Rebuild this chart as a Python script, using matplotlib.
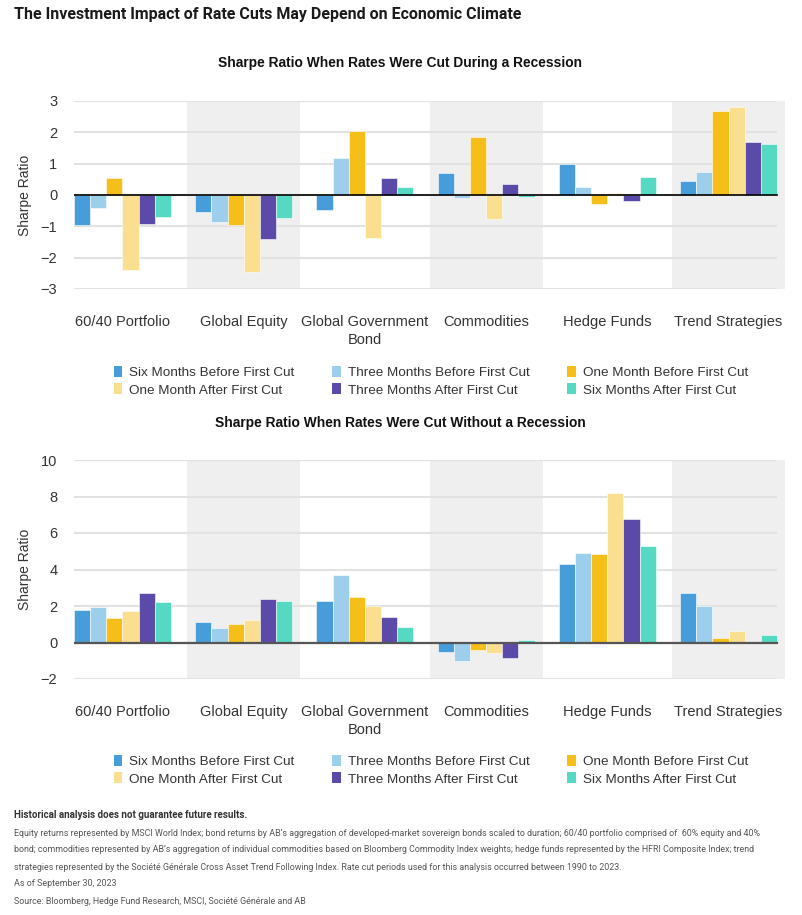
import matplotlib.pyplot as plt
from matplotlib.patches import Patch
import numpy as np

plt.rcParams['font.family'] = ['Liberation Sans', 'DejaVu Sans']

categories = ['60/40 Portfolio', 'Global Equity', 'Global Government\nBond',
              'Commodities', 'Hedge Funds', 'Trend Strategies']
series_names = ['Six Months Before First Cut', 'Three Months Before First Cut',
                'One Month Before First Cut', 'One Month After First Cut',
                'Three Months After First Cut', 'Six Months After First Cut']
colors = ['#469dd9', '#9dcfec', '#f6be18', '#f9df8f', '#5b4aa8', '#56d9c2']

# Sharpe ratio, rate cuts during a recession (one list per period)
rec_six_before = [-0.97, -0.55, -0.49, 0.70, 0.99, 0.45]
rec_three_before = [-0.43, -0.86, 1.19, -0.11, 0.27, 0.73]
rec_one_before = [0.53, -0.95, 2.04, 1.85, -0.28, 2.69]
rec_one_after = [-2.39, -2.45, -1.36, -0.78, 0.05, 2.82]
rec_three_after = [-0.94, -1.41, 0.54, 0.36, -0.20, 1.69]
rec_six_after = [-0.69, -0.72, 0.27, -0.07, 0.59, 1.63]

# Sharpe ratio, rate cuts without a recession
norec_six_before = [1.76, 1.10, 2.30, -0.53, 4.28, 2.69]
norec_three_before = [1.92, 0.80, 3.69, -1.01, 4.92, 1.99]
norec_one_before = [1.35, 1.01, 2.49, -0.40, 4.84, 0.22]
norec_one_after = [1.72, 1.22, 1.99, -0.60, 8.17, 0.62]
norec_three_after = [2.72, 2.38, 1.37, -0.86, 6.76, -0.02]
norec_six_after = [2.21, 2.25, 0.84, 0.16, 5.28, 0.40]

rec = [rec_six_before, rec_three_before, rec_one_before,
       rec_one_after, rec_three_after, rec_six_after]
norec = [norec_six_before, norec_three_before, norec_one_before,
         norec_one_after, norec_three_after, norec_six_after]

W, H = 802, 915
fig = plt.figure(figsize=(W / 100, H / 100), dpi=100)

tc = '#333333'


def draw(ax_rect, data, yticks, zero_col, zero_lw):
    ax = fig.add_axes(ax_rect)
    x = np.arange(len(categories))
    bw = 0.8 / 6
    # shaded bands behind every other category
    for i in (1, 3, 5):
        ax.axvspan(i - 0.466, i + 0.466, color='#efefef', zorder=0, lw=0)
    ax.hlines(yticks, -0.4, 5.4, color='#e2e2e2', lw=1.5, zorder=1)
    for k, vals in enumerate(data):
        ax.bar(x - 0.4 + bw * (k + 0.5), vals, width=bw, color=colors[k],
               edgecolor='white', linewidth=0.4, zorder=2)
    ax.axhline(0, xmin=0, xmax=5.8 / 5.866, color=zero_col, lw=zero_lw, zorder=3)
    ax.set_xlim(-0.4, 5.466)
    ax.set_ylim(yticks[0], yticks[-1])
    ax.set_yticks(yticks)
    ax.set_yticklabels(['\u2212' + str(-t) if t < 0 else str(t) for t in yticks])
    ax.set_xticks(x)
    ax.set_xticklabels(categories, fontsize=10.5, color=tc, linespacing=1.3)
    ax.tick_params(axis='x', length=0, pad=19)
    ax.tick_params(axis='y', length=0, pad=12, labelsize=10.5, labelcolor=tc)
    for s in ax.spines.values():
        s.set_visible(False)
    ax.set_ylabel('Sharpe Ratio', fontsize=10, color=tc, labelpad=6)
    return ax


draw([74 / W, 1 - 289 / H, 711 / W, 188 / H], rec, [-3, -2, -1, 0, 1, 2, 3], 'black', 1.2)
draw([74 / W, 1 - 679 / H, 711 / W, 219 / H], norec, [-2, 0, 2, 4, 6, 8, 10], '#555555', 1.6)

fig.text(14 / W, 1 - 15 / H, 'The Investment Impact of Rate Cuts May Depend on Economic Climate',
         fontsize=11.5, fontweight='bold', color='#1a1a1a', va='center', family='Roboto')
fig.text(400 / W, 1 - 63 / H, 'Sharpe Ratio When Rates Were Cut During a Recession',
         fontsize=9.9, fontweight='bold', color='#111111', ha='center', va='center')
fig.text(400 / W, 1 - 423 / H, 'Sharpe Ratio When Rates Were Cut Without a Recession',
         fontsize=9.9, fontweight='bold', color='#111111', ha='center', va='center')

# legend order for column-wise filling
order = [0, 3, 1, 4, 2, 5]
handles = [Patch(facecolor=colors[i], label=series_names[i]) for i in order]
for ytop in (366, 755):
    fig.legend(handles=handles, ncol=3, loc='upper left',
               bbox_to_anchor=(114 / W, 1 - ytop / H), frameon=False,
               fontsize=9.7, labelcolor=tc, handlelength=0.6, handleheight=0.9,
               handletextpad=0.55, columnspacing=2.8, labelspacing=0.3,
               borderpad=0, borderaxespad=0)

fig.text(14 / W, 1 - 815 / H, 'Historical analysis does not guarantee future results.',
         fontsize=7.0, fontweight='bold', color='#333333', va='center', family='Roboto')
notes = [
    "Equity returns represented by MSCI World Index; bond returns by AB\u2019s aggregation of developed-market sovereign bonds scaled to duration; 60/40 portfolio comprised of  60% equity and 40%",
    "bond; commodities represented by AB\u2019s aggregation of individual commodities based on Bloomberg Commodity Index weights; hedge funds represented by the HFRI Composite Index; trend",
    "strategies represented by the Soci\u00e9t\u00e9 G\u00e9n\u00e9rale Cross Asset Trend Following Index. Rate cut periods used for this analysis occurred between 1990 to 2023.",
    "As of September 30, 2023",
    "Source: Bloomberg, Hedge Fund Research, MSCI, Soci\u00e9t\u00e9 G\u00e9n\u00e9rale and AB",
]
for i, line in enumerate(notes):
    fig.text(14 / W, 1 - (833 + i * 17) / H, line, fontsize=6.43, color='#555555',
             va='center', family='Roboto')

fig.savefig('out.png', dpi=100, facecolor='white')
